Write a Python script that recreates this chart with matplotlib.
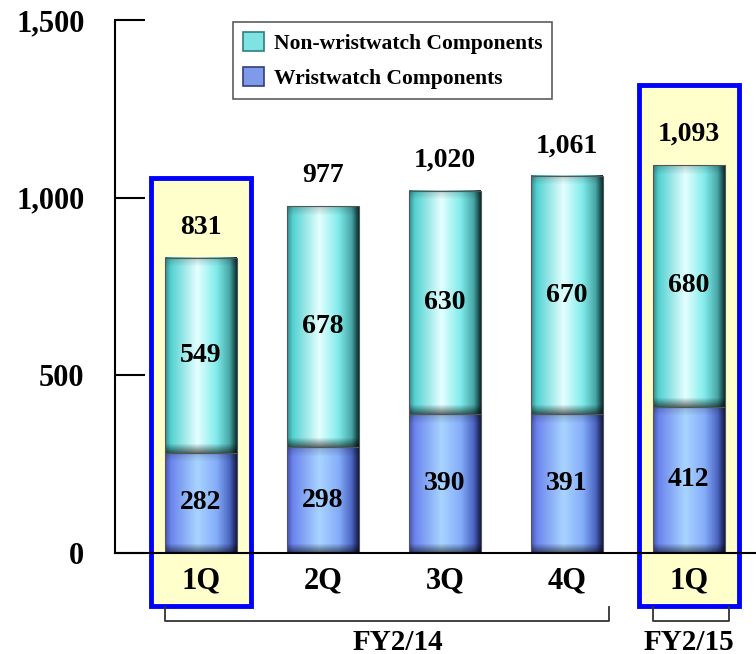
import numpy as np
import matplotlib
matplotlib.use("Agg")
import matplotlib.pyplot as plt
from matplotlib.patches import Rectangle, Patch

# ---- data ----
categories = ["1Q", "2Q", "3Q", "4Q", "1Q"]
wristwatch = [282, 298, 390, 391, 412]
non_wristwatch = [549, 678, 630, 670, 680]
totals = [831, 977, 1020, 1061, 1093]
year_groups = ["FY2/14", "FY2/15"]
y_ticks = [0, 500, 1000, 1500]
y_tick_labels = ["0", "500", "1,000", "1,500"]

plt.rcParams['font.family'] = ['Liberation Serif', 'DejaVu Serif']
plt.rcParams['font.weight'] = 'bold'

W, H, DPI = 756, 654, 100
fig = plt.figure(figsize=(W / DPI, H / DPI), dpi=DPI)
ax = fig.add_axes([115 / W, 1 - 553 / H, 1 - 115 / W, (553 - 20) / H])

x = np.arange(len(categories))
bar_w = 0.59
ax.set_xlim(-0.705, 4.55)
ax.set_ylim(0, 1500)
px_per_unit = (553 - 20) / 1500.0


def profile(stops, n=200):
    t = np.linspace(0, 1, n)
    pos = [s[0] for s in stops]
    cols = np.array([s[1] for s in stops])
    return np.stack([np.interp(t, pos, cols[:, i]) for i in range(3)], axis=1)


cyan_stops = [(0.0, (0.22, 0.55, 0.55)), (0.08, (0.33, 0.82, 0.82)),
              (0.45, (0.90, 1.0, 1.0)), (0.72, (0.50, 0.92, 0.92)),
              (0.9, (0.28, 0.65, 0.65)), (1.0, (0.04, 0.18, 0.18))]
blue_stops = [(0.0, (0.28, 0.33, 0.68)), (0.08, (0.42, 0.52, 0.93)),
              (0.45, (0.66, 0.83, 1.0)), (0.72, (0.52, 0.68, 0.98)),
              (0.9, (0.30, 0.40, 0.76)), (1.0, (0.08, 0.10, 0.28))]
cyan_prof = profile(cyan_stops)
blue_prof = profile(blue_stops)


def grad_bar(xc, y0, h, prof, bottom_dark=0.55):
    hp = max(int(h * px_per_unit), 20)
    img = np.repeat(prof[None, :, :], hp, axis=0).copy()
    bev = 9
    for r in range(min(bev, hp)):
        f_b = bottom_dark + (1 - bottom_dark) * r / bev
        img[r] *= f_b
        f_t = 0.82 + 0.18 * r / bev
        img[hp - 1 - r] *= f_t
    ax.imshow(img, extent=[xc - bar_w / 2, xc + bar_w / 2, y0, y0 + h],
              origin='lower', aspect='auto', zorder=3, interpolation='bilinear')
    ax.add_patch(Rectangle((xc - bar_w / 2, y0), bar_w, h, fill=False,
                           edgecolor='#555555', lw=0.8, zorder=4))


for xi, wv, nv in zip(x, wristwatch, non_wristwatch):
    grad_bar(xi, 0, wv, blue_prof, 0.45)
    grad_bar(xi, wv, nv, cyan_prof, 0.45)
    ax.text(xi, wv / 2, f"{wv:,}", ha='center', va='center', fontsize=20,
            fontweight='bold', zorder=5)
    ax.text(xi, wv + nv / 2, f"{nv:,}", ha='center', va='center', fontsize=20,
            fontweight='bold', zorder=5)

for xi, t in zip(x, totals):
    ax.text(xi, t + 85, f"{t:,}", ha='center', va='center', fontsize=20,
            fontweight='bold', zorder=5)

ax.set_xlim(-0.705, 4.55)
ax.set_ylim(0, 1500)

# highlight boxes
def yd(py):
    return (553 - py) / px_per_unit

for xi, top_py in [(0, 178), (4, 85)]:
    ax.add_patch(Rectangle((xi - 0.41, yd(606)), 0.82, yd(top_py) - yd(606),
                           facecolor='#FFFFCC', edgecolor='#0000FF', lw=3.5,
                           zorder=1, clip_on=False))

# axes styling
for s in ['top', 'right']:
    ax.spines[s].set_visible(False)
ax.spines['left'].set_linewidth(1.5)
ax.spines['bottom'].set_linewidth(1.5)
ax.spines['bottom'].set_zorder(6)
ax.set_yticks(y_ticks)
ax.set_yticklabels(y_tick_labels)
ax.tick_params(axis='y', direction='in', length=21.6, width=1.5,
               labelsize=22)
for lab in ax.get_yticklabels():
    lab.set_fontweight('bold')
ax.yaxis.set_tick_params(pad=22)
ax.set_xticks(x)
ax.set_xticklabels(categories)
ax.tick_params(axis='x', length=0, pad=10, labelsize=22)
for lab in ax.get_xticklabels():
    lab.set_fontweight('bold')
ax.set_facecolor('none')

# brackets
bcol = '#333333'
yb0, yb1 = yd(607), yd(621)
for xa, xb in [(-bar_w / 2, 3 + bar_w / 2 + 0.05), (4 - bar_w / 2, 4 + bar_w / 2 + 0.03)]:
    ax.plot([xa, xa, xb, xb], [yb0, yb1, yb1, yb0], color=bcol, lw=1.3,
            clip_on=False, zorder=2)
ax.text(1.61, yd(642), year_groups[0], ha='center', va='center', fontsize=21,
        fontweight='bold')
ax.text(4.0, yd(642), year_groups[1], ha='center', va='center', fontsize=21,
        fontweight='bold')

# legend
handles = [Patch(facecolor='#7FE3E3', edgecolor='#2F7F7F', lw=1.2,
                 label='Non-wristwatch Components'),
           Patch(facecolor='#7F9AE8', edgecolor='#2F3F7F', lw=1.2,
                 label='Wristwatch Components')]
leg = fig.legend(handles=handles, loc='upper left',
                 bbox_to_anchor=(233 / W, 1 - 22 / H),
                 bbox_transform=fig.transFigure, frameon=True, fancybox=False,
                 prop={'size': 15.5, 'weight': 'bold'}, borderaxespad=0,
                 handlelength=1.0, handleheight=1.0, handletextpad=0.45,
                 labelspacing=0.62, borderpad=0.45)
leg.get_frame().set_edgecolor('#333333')
leg.get_frame().set_linewidth(1.2)

fig.savefig('out.png', dpi=DPI)
